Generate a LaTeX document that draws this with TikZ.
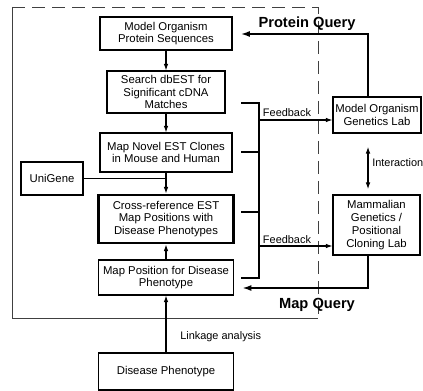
\documentclass[tikz,border=0pt]{standalone}
\usepackage{fontspec}
\setmainfont{Liberation Sans}
\usetikzlibrary{arrows.meta}
\tikzset{
  box/.style={draw,line width=0.8pt,align=center,inner sep=1pt,font=\fontsize{8.5}{9.6}\selectfont},
  tip/.style={-{Latex[length=5pt,width=3.5pt]},line width=0.8pt},
  query/.style={-{Latex[length=7pt,width=4.5pt]},line width=1.5pt},
  lbl/.style={inner sep=0pt,font=\fontsize{8.2}{9.6}\selectfont},
  big/.style={inner sep=0pt,font=\bfseries\fontsize{11}{13}\selectfont},
  frame/.style={line width=0.5pt,black!75}
}
\begin{document}
\begin{tikzpicture}[x=0.75pt,y=-0.75pt]
\useasboundingbox (0,0) rectangle (423,391);
\draw[frame] (12,7) -- (12,318) -- (318,318);
\draw[frame,dash pattern=on 10pt off 5pt] (12,7) -- (318,7) -- (318,318);
\node[box,minimum width=99pt,minimum height=24.75pt] (prot) at (166,33.5) {Model Organism\\Protein Sequences};
\node[box,minimum width=88.5pt,minimum height=31.5pt] (search) at (166,92) {Search dbEST for\\Significant cDNA\\Matches};
\node[box,minimum width=99pt,minimum height=29.25pt] (novel) at (166,152.5) {Map Novel EST Clones\\in Mouse and Human};
\node[box,minimum width=46.5pt,minimum height=24.75pt] (unigene) at (52,178.5) {UniGene};
\node[box,line width=2.2pt,minimum width=101.25pt,minimum height=36pt] (cross) at (166,219) {Cross-reference EST\\Map Positions with\\Disease Phenotypes};
\node[box,minimum width=101.25pt,minimum height=26.25pt] (mappos) at (166,277.5) {Map Position for Disease\\Phenotype};
\node[box,minimum width=101.25pt,minimum height=27.75pt] (disease) at (166,371.5) {Disease Phenotype};
\node[box,minimum width=66pt,minimum height=27pt] (molab) at (377,115) {Model Organism\\Genetics Lab};
\node[box,minimum width=65.25pt,minimum height=45pt] (mamlab) at (376.5,225) {Mammalian\\Genetics /\\Positional\\Cloning Lab};
\draw[tip] (prot) -- (search);
\draw[tip] (search) -- (novel);
\draw[tip] (novel) -- (cross);
\draw[line width=0.8pt] (unigene.east) -- (unigene.east -| cross.north);
\draw[tip] (mappos) -- (cross);
\draw[tip] (disease) -- (mappos);
\node[lbl,anchor=west] (linkage) at (180,337) {Linkage analysis};
\coordinate (b1) at (241,103);
\coordinate (b2) at (241,152);
\coordinate (b3) at (241,212);
\coordinate (b4) at (241,278);
\draw[line width=0.8pt] (b1) -- ++(18,0) |- (b4);
\draw[line width=0.8pt] (b2) -- ++(18,0);
\draw[line width=0.8pt] (b3) -- ++(18,0);
\draw[tip] (259,120) -- (molab.west |- 0,120);
\draw[tip] (259,246) -- (mamlab.west |- 0,246);
\node[lbl] (fb1) at (287,113) {Feedback};
\node[lbl] (fb2) at (287,240) {Feedback};
\draw[query,shorten >=6pt] (molab.north -| 368,0) -- (368,34) -- (prot.east |- 0,34);
\node[big] (pq) at (307,24) {Protein Query};
\draw[query,shorten >=6pt] (mamlab.south -| 368,0) -- (368,288) -- (mappos.east |- 0,288);
\node[big] (mq) at (317,305) {Map Query};
\draw[{Latex[length=5pt,width=3.5pt]}-{Latex[length=5pt,width=3.5pt]},line width=0.8pt,shorten <=10pt,shorten >=4pt] (molab.south -| 368,0) -- (mamlab.north -| 368,0);
\node[lbl,anchor=west] (inter) at (372,163) {Interaction};
\end{tikzpicture}
\end{document}
